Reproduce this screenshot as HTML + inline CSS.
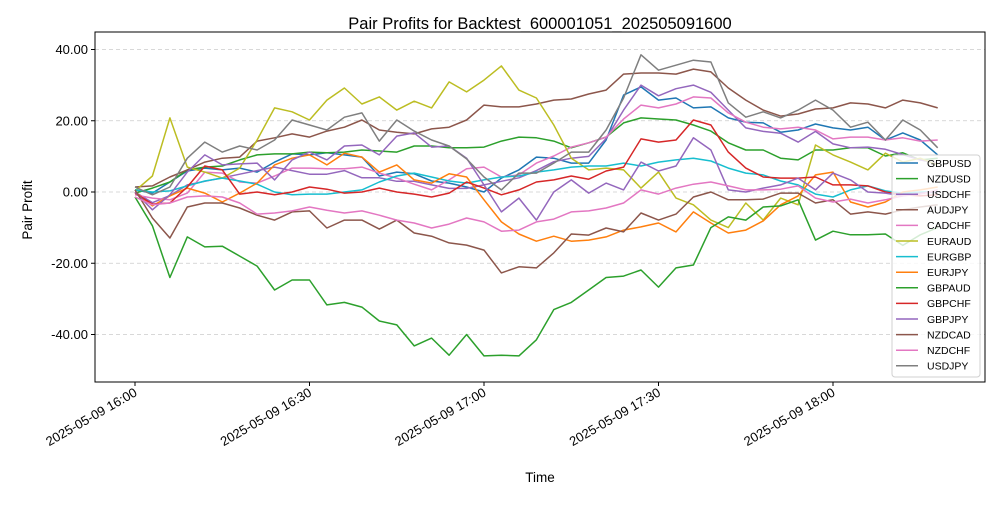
<!DOCTYPE html>
<html><head><meta charset="utf-8"><style>
body{margin:0;background:#fff;}
svg text{font-family:"Liberation Sans","DejaVu Sans",sans-serif;}
</style></head><body>
<svg id="chart" width="1000" height="500" viewBox="0 0 1000 500" xmlns="http://www.w3.org/2000/svg">
<rect x="0" y="0" width="1000" height="500" fill="#fff"/>
<text x="540" y="29" font-size="16.5" text-anchor="middle" fill="#000">Pair Profits for Backtest_600001051_202505091600</text>
<g id="grid"></g>
<g id="series"></g>
<rect x="95" y="32" width="890" height="350" fill="none" stroke="#000" stroke-width="1"/>
<g id="axes"></g>
<text x="540" y="482" font-size="13.5" text-anchor="middle">Time</text>
<text x="32" y="210" font-size="13.5" text-anchor="middle" transform="rotate(-90 32 210)">Pair Profit</text>
<g id="legend"></g>
</svg>
<script>
const times = [0,3,6,9,12,15,18,21,24,27,30,33,36,39,42,45,48,51,54,57,60,63,66,69,72,75,78,81,84,87,90,93,96,99,102,105,108,111,114,117,120,123,126,129,132,135,138];
const yTicks = [40,20,0,-20,-40];
const yTickLabels = ["40.00","20.00","0.00","-20.00","-40.00"];
const xTicks = [0,30,60,90,120];
const xTickLabels = ["2025-05-09 16:00","2025-05-09 16:30","2025-05-09 17:00","2025-05-09 17:30","2025-05-09 18:00"];
const seriesNames = ["GBPUSD","NZDUSD","USDCHF","AUDJPY","CADCHF","EURAUD","EURGBP","EURJPY","GBPAUD","GBPCHF","GBPJPY","NZDCAD","NZDCHF","USDJPY"];
const seriesColors = ["#1f77b4","#2ca02c","#9467bd","#8c564b","#e377c2","#bcbd22","#17becf","#ff7f0e","#2ca02c","#d62728","#9467bd","#8c564b","#e377c2","#7f7f7f"];
const gbpusd = [0.6,-0.3,2.8,5.9,6.7,6.2,6.7,5.6,8.4,10.7,10.4,11,10.4,9.8,4.5,5.6,5.1,3.1,2.5,1.4,0,3.9,6.2,9.8,9.5,8.1,8.1,14.6,27.2,29.5,25.8,26.4,23.6,23.9,20.8,19.6,19.4,16.8,17.4,19.1,18,17.4,18.2,14.6,16.6,14.6,10.4];
const nzdusd = [-0.3,1.1,2.8,6.2,7,7.3,9,10.4,10.7,10.7,11.2,11,11.2,11.8,11.5,11.2,12.9,12.9,12.4,12.4,12.6,14.3,15.4,15.2,14.3,12.4,13.8,15.4,19.4,20.8,20.5,20.2,18.8,17.1,13.8,11.8,11.8,9.5,9,11.8,11.8,12.4,12.4,10.1,11,9,9.5];
const usdchf = [0,-3,-1,2,3,4,5,6,7,6,5,5,6,4,4,3,3,2,1,1,2,3,4,6,8.5,9.5,10,15,23,30,27,29,30,28,23,18,17,16.5,14,17,13.5,12.4,12.6,12,10.5,9,8];
const audjpy = [1.4,1.7,4.2,6.2,8.4,9.5,9.8,14.3,15.2,16.3,15.4,17.1,18.2,20.2,17.4,16.8,16.3,17.7,18.2,20.2,24.4,23.9,23.9,24.7,25.8,26.1,27.5,28.6,33.1,33.4,33.4,33.1,34.5,33.7,29.2,25.8,23,21.3,21.9,23.3,23.6,25,24.7,23.6,25.8,25,23.6];
const cadchf = [-0.8,-1.7,-2.2,-0.3,5.6,5.3,2.8,2.5,4.5,6.7,6.7,6.5,6.5,7,5.3,3.9,2.2,0.6,3.4,6.5,7,4.2,4.8,8.1,10.1,12.6,13.8,15.4,20.5,24.4,23.6,24.7,26.7,26.4,22.2,19.6,18.2,17.7,18.2,17.4,14.9,15.4,15.4,14.6,15.2,14.3,14.6];
const euraud = [0.3,4.5,20.8,7,5.6,3.9,6.7,14.6,23.6,22.5,20.2,25.8,29.2,24.7,26.7,23,25.5,23.6,30.9,28.1,31.4,35.4,28.6,26.4,18.8,9.5,6.2,6.7,6.2,1.1,5.6,-1.7,-3.6,-7.9,-10,-3.1,-7.9,-1.7,-3.6,13.2,10.4,8.4,6.2,10.9,8.4,9.5,7.6];
const eurgbp = [0.6,0,0.3,1.7,3.1,3.9,3.1,2.2,0,-0.8,-0.6,-0.6,0,0.6,2.8,4.5,5.3,4.2,3.1,2.5,3.4,4.2,4.5,5.6,6.2,7,7.3,7.3,8.1,7.3,8.4,9,9.5,8.7,6.7,5.3,4.8,3.1,2,-0.6,-1.4,0.6,1.7,0.3,-0.3,0,0];
const eurjpy = [0,-3.9,-1.1,1.1,-0.3,-2.8,-0.3,2.5,7.6,9.5,10.4,7.6,10.9,9.8,5.6,7.6,3.4,2.5,5.1,4.2,-2.2,-8.4,-11.8,-13.8,-12.4,-13.8,-13.5,-12.6,-10.7,-9.8,-8.7,-11.2,-5.6,-8.7,-11.5,-10.7,-8.1,-3.6,-1.1,4.8,5.6,-2.8,-4.2,-2.8,0,0.6,1.4];
const gbpaud = [-1.4,-9.5,-24,-12.6,-15.4,-15.2,-18,-20.8,-27.5,-24.7,-24.7,-31.7,-31,-32.3,-36.2,-37.3,-43.2,-41,-45.8,-40,-46,-45.8,-46,-41.5,-33,-31,-27.5,-24,-23.6,-21.9,-26.7,-21.3,-20.5,-10,-7,-7.9,-4.2,-3.9,-2.2,-13.5,-11,-12,-12,-11.8,-15,-12,-10];
const gbpchf = [-0.3,-3.4,-3.1,1.4,7.3,6.2,-0.6,0,-0.8,0,1.4,0.8,-0.3,0,1.1,0,-0.6,-1.4,-0.3,2.8,1.1,-0.8,0.6,2.8,3.4,4.5,3.6,5.9,7,14.9,14,14.6,20.2,18.8,11.2,6.7,4.2,3.9,3.9,4.2,2,2,1.7,0,-0.8,-1.1,-0.8];
const gbpjpy = [0,-5,-0.8,5.6,10.4,7.6,7.9,8.1,3.4,9,11.2,9,12.9,13.2,10.4,15.7,16.6,12.6,12.9,9.5,2,-5.6,-1.7,-7.9,0,3.4,-0.3,2.5,0.6,8.4,5.9,7.3,15.2,11.8,0.6,0,1.1,2,3.9,0.6,5.3,3.4,0,-0.3,-1.1,-0.3,0];
const nzdcad = [0.6,-7.3,-12.9,-4.2,-3.1,-3.1,-4.5,-6.5,-7.9,-5.6,-5.3,-10.1,-7.9,-7.9,-10.4,-7.9,-11.5,-12.4,-14.3,-14.9,-16.3,-22.7,-21,-21.3,-17.1,-11.8,-12.1,-10.1,-11.2,-5.9,-7.9,-6.2,-1.4,0,-2.2,-2.2,-2,-0.3,-0.3,-3.1,-2.2,-6.2,-5.6,-6.2,-5,-4.2,-3.6];
const nzdchf = [-1.4,-3.6,-3.1,-1.4,-1.1,-1.4,-3.1,-6.2,-5.9,-5.3,-4.2,-5.1,-5.9,-5.3,-6.5,-7.9,-8.7,-10.1,-9,-7.3,-8.4,-11,-10.7,-8.4,-7.6,-5.6,-5.3,-4.5,-3.1,0.6,-0.6,1.1,2.2,2.8,1.7,0.6,0.6,0.8,1.7,-1.7,-2.8,-2,-3.1,-2.2,-1.1,-0.6,0.6];
const usdjpy = [1.4,-0.8,1.4,9.5,14,11.2,12.9,11.8,14.6,20.2,18.8,17.4,21,22.2,14.3,20.2,17.1,14.6,12.9,9.3,4.2,0.6,5.3,5.3,8.1,11.2,11.2,17.4,26.4,38.5,34.2,35.6,37,36.5,25,21,22.5,20.8,23,25.8,23,18.2,19.6,14.6,20.2,17.4,12.4];
const seriesValues = [gbpusd,nzdusd,usdchf,audjpy,cadchf,euraud,eurgbp,eurjpy,gbpaud,gbpchf,gbpjpy,nzdcad,nzdchf,usdjpy];

const NS = "http://www.w3.org/2000/svg";
function xScale(t){ return 135 + t * 174.5 / 30; }
function yScale(v){ return 192 - v * 3.5625; }
function mk(tag, attrs, parent){ const e=document.createElementNS(NS,tag); for(const k in attrs) e.setAttribute(k,attrs[k]); parent.appendChild(e); return e; }

const grid=document.getElementById('grid'), axes=document.getElementById('axes'), ser=document.getElementById('series'), leg=document.getElementById('legend');
yTicks.forEach((v,i)=>{
  const y=yScale(v);
  const g=mk('line',{x1:95,x2:985,y1:y,y2:y,stroke:'#cccccc','stroke-width':0.8,'stroke-dasharray':'4,3'},grid);
  
  
  const tk=mk('line',{x1:91,x2:95,y1:y,y2:y,stroke:'#000'},axes);
  
  
  const t=mk('text',{x:88,y:y+4.5,'font-size':13,'text-anchor':'end'},axes);
  t.textContent=yTickLabels[i];
  
  
});
xTicks.forEach((m,i)=>{
  const x=xScale(m);
  const tk=mk('line',{x1:x,x2:x,y1:382,y2:386,stroke:'#000'},axes);
  
  
  const t=mk('text',{x:x+3,y:395,'font-size':13,'text-anchor':'end',transform:`rotate(-30 ${x+3} 395)`},axes);
  t.textContent=xTickLabels[i];
  
  
});
seriesValues.forEach((vals,i)=>{
  const pts=vals.map((v,j)=>xScale(times[j]).toFixed(1)+','+yScale(v).toFixed(1)).join(' ');
  const p=mk('polyline',{points:pts,fill:'none',stroke:seriesColors[i],'stroke-width':1.5,'stroke-linejoin':'round'},ser);
  
  
});
const box=mk('rect',{x:892,y:155,width:88,height:222,rx:3,fill:'#fff','fill-opacity':0.8,stroke:'#d0d0d0'},leg);


seriesNames.forEach((n,i)=>{
  const y=163+i*15.6;
  const l=mk('line',{x1:896,x2:918,y1:y,y2:y,stroke:seriesColors[i],'stroke-width':1.5},leg);
  
  
  const t=mk('text',{x:927,y:y+3.8,'font-size':10.5},leg);
  t.textContent=n;
  
  
});
</script>
</body></html>
